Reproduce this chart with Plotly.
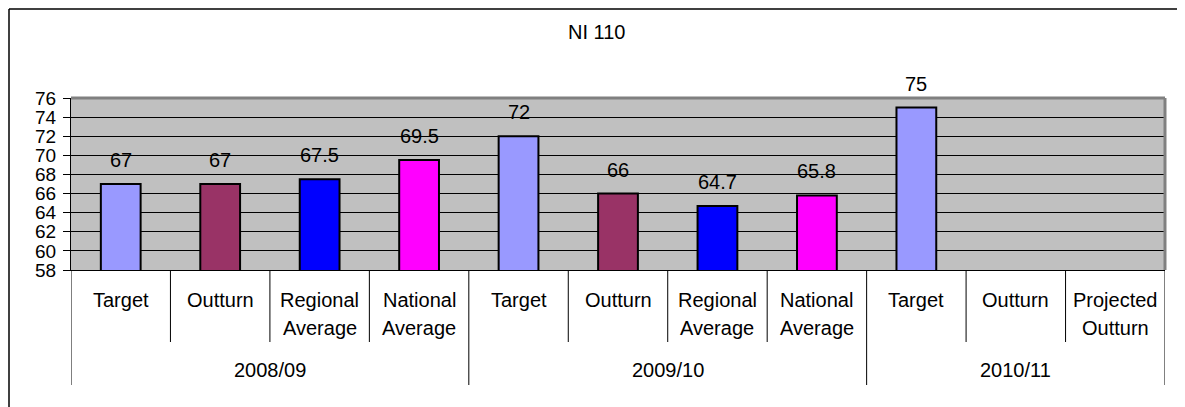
import plotly.graph_objects as go

title = "NI 110"
groups = ["2008/09", "2009/10", "2010/11"]
group_sizes = [4, 4, 3]
cat_line1 = ["Target", "Outturn", "Regional", "National", "Target", "Outturn", "Regional", "National", "Target", "Outturn", "Projected"]
cat_line2 = ["", "", "Average", "Average", "", "", "Average", "Average", "", "", "Outturn"]
values = [67, 67, 67.5, 69.5, 72, 66, 64.7, 65.8, 75, None, None]
labels = ["67", "67", "67.5", "69.5", "72", "66", "64.7", "65.8", "75", "", ""]
series_type = ["Target", "Outturn", "Regional", "National", "Target", "Outturn", "Regional", "National", "Target", "Outturn", "Projected"]
colors = {"Target": "#9999FF", "Outturn": "#993366", "Regional": "#0000FF", "National": "#FF00FF", "Projected": "#FFFFCC"}
y_min, y_max, y_step = 58, 76, 2

FONT = "Liberation Sans, Arial, sans-serif"
FS = 20
n = len(cat_line1)
xs = list(range(n))

# page has an 8px body margin; work in page pixels and convert
OFF = 8
PAGE_W, PAGE_H = 1185, 407
L, R, T, B = 71, 1165, 98, 270   # plot area in page pixels
W, H = PAGE_W - OFF, PAGE_H - OFF
PH = B - T
PW = R - L

def py(Y):
    return (B - Y) / PH

def px(X):
    return (X - L) / PW

fig = go.Figure()
bx = [x for x, v in zip(xs, values) if v is not None]
bv = [v for v in values if v is not None]
bc = [colors[s] for s, v in zip(series_type, values) if v is not None]
fig.add_trace(go.Bar(
    x=bx, y=bv, width=0.40,
    marker=dict(color=bc, line=dict(color="black", width=2)),
    hoverinfo="skip", showlegend=False,
))

annotations = []
for x, v, t in zip(xs, values, labels):
    if v is None:
        continue
    annotations.append(dict(x=x, y=v, xref="x", yref="y", text=t, showarrow=False,
                            yshift=24, yanchor="middle",
                            font=dict(family=FONT, size=FS, color="black")))
for x, a, b in zip(xs, cat_line1, cat_line2):
    annotations.append(dict(x=x, y=py(300), xref="x", yref="paper", text=a, showarrow=False,
                            yanchor="middle", font=dict(family=FONT, size=FS, color="black")))
    if b:
        annotations.append(dict(x=x, y=py(328), xref="x", yref="paper", text=b, showarrow=False,
                                yanchor="middle", font=dict(family=FONT, size=FS, color="black")))
start = 0
group_bounds = [0]
for g, s in zip(groups, group_sizes):
    center = start + (s - 1) / 2
    annotations.append(dict(x=center, y=py(370), xref="x", yref="paper", text=g, showarrow=False,
                            yanchor="middle", font=dict(family=FONT, size=FS, color="black")))
    start += s
    group_bounds.append(start)
annotations.append(dict(x=px(596), y=py(32), xref="paper", yref="paper", text=title, showarrow=False,
                        yanchor="middle", xanchor="center", font=dict(family=FONT, size=FS, color="black")))

shapes = []
for i in range(n + 1):
    depth = 385 if i in group_bounds else 342
    shapes.append(dict(type="line", xref="x", yref="paper", x0=i - 0.5, x1=i - 0.5,
                       y0=0, y1=py(depth), line=dict(color="black", width=1)))
# plot area border (gray) top & right
shapes.append(dict(type="line", xref="paper", yref="paper", x0=0, x1=1, y0=1, y1=1,
                   line=dict(color="#808080", width=3)))
shapes.append(dict(type="line", xref="paper", yref="paper", x0=1, x1=1, y0=0, y1=1,
                   line=dict(color="#808080", width=3)))
# outer chart frame
shapes.append(dict(type="line", xref="paper", yref="paper", x0=px(9), x1=px(9), y0=py(9), y1=py(420),
                   line=dict(color="black", width=1.5)))
shapes.append(dict(type="line", xref="paper", yref="paper", x0=px(9), x1=px(1180), y0=py(9), y1=py(9),
                   line=dict(color="black", width=1.5)))

fig.update_layout(
    width=W, height=H,
    margin=dict(l=L - OFF, r=PAGE_W - R, t=T - OFF, b=PAGE_H - B, pad=0),
    paper_bgcolor="white", plot_bgcolor="#C0C0C0",
    font=dict(family=FONT, size=FS, color="black"),
    annotations=annotations, shapes=shapes,
    bargap=0.6,
)
fig.update_xaxes(range=[-0.5, n - 0.5], showticklabels=False, showgrid=False, zeroline=False,
                 showline=True, linecolor="black", linewidth=1, ticks="")
fig.update_yaxes(range=[y_min, y_max], dtick=y_step, tick0=y_min, showgrid=True, gridcolor="black",
                 gridwidth=1, zeroline=False, showline=True, linecolor="black", linewidth=1,
                 ticks="outside", ticklen=7, tickcolor="black", ticklabelstandoff=3,
                 tickfont=dict(family=FONT, size=19, color="black"))

fig.write_html("out.html")
